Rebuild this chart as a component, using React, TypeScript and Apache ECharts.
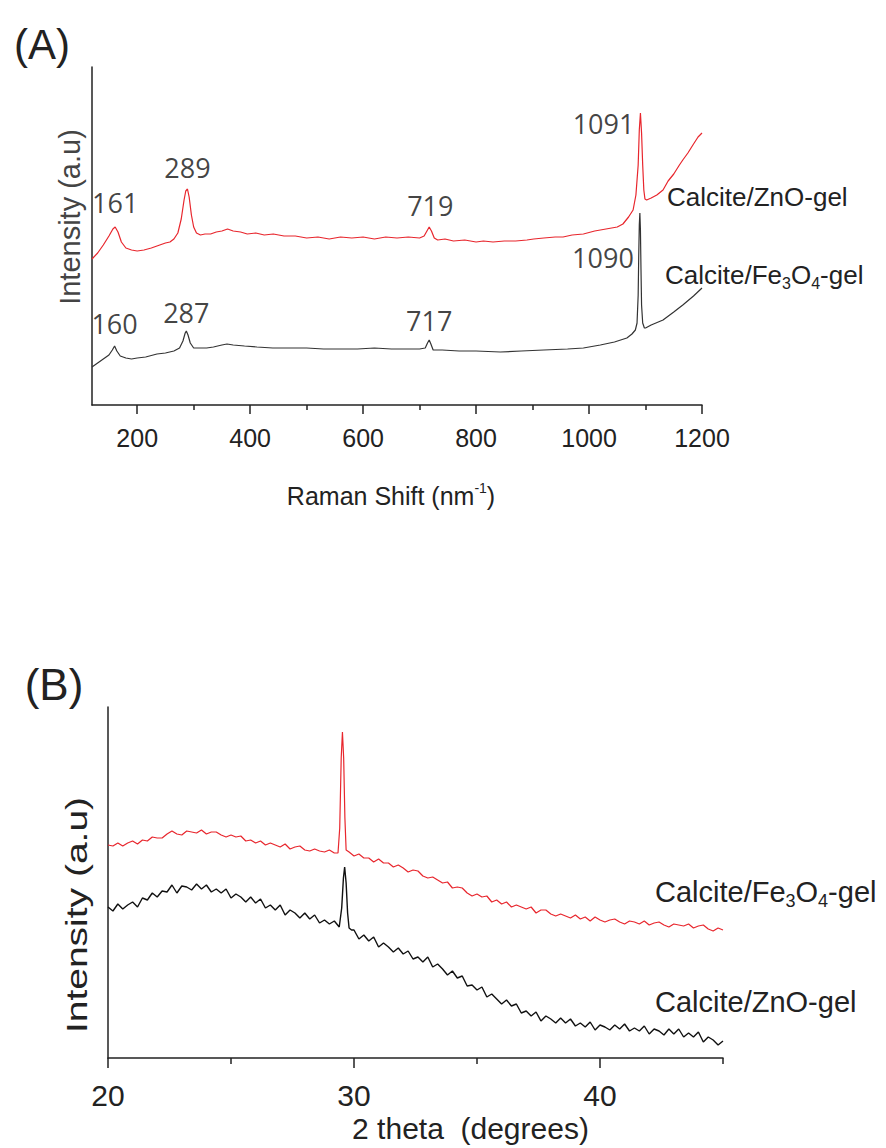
import React, { useEffect, useRef } from "react";
import * as echarts from "echarts";

// ---------- Panel A: Raman spectra (x: Raman shift, y: intensity a.u.) ----------
const ramanZnO: [number, number][] = [
  [120, 146], [130, 152], [140, 160], [150, 169], [157, 176], [161, 178], [166, 173], [172, 163],
  [180, 157], [190, 155], [200, 154], [212, 155], [225, 157], [240, 160], [250, 162], [258, 163],
  [265, 166], [272, 172], [278, 186], [283, 205], [286, 214], [289, 216], [292, 208], [296, 190],
  [300, 178], [305, 172], [312, 170], [320, 171], [330, 171], [340, 173], [350, 174], [360, 176],
  [370, 174], [383, 173], [395, 171], [410, 172], [425, 170], [441, 171], [460, 169], [480, 169],
  [500, 167], [520, 168], [540, 166], [560, 168], [580, 167], [600, 168], [620, 166], [640, 168],
  [660, 167], [680, 168], [700, 167], [708, 169], [713, 174], [717, 178], [721, 174], [726, 167],
  [732, 165], [745, 166], [760, 164], [780, 165], [800, 163], [813, 164], [830, 163], [850, 164],
  [870, 164], [890, 165], [902, 166], [920, 167], [940, 168], [954, 168], [970, 170], [990, 171],
  [1010, 174], [1030, 176], [1050, 178], [1060, 181], [1070, 188], [1078, 195], [1083, 210],
  [1087, 240], [1089, 275], [1091, 292], [1093, 272], [1095, 240], [1097, 215], [1099, 206],
  [1102, 205], [1110, 207], [1120, 210], [1131, 215], [1140, 224], [1150, 231], [1160, 240],
  [1166, 245], [1175, 252], [1185, 261], [1193, 268], [1200, 272],
];

const ramanFe3O4: [number, number][] = [
  [120, 38], [130, 42], [140, 46], [150, 50], [156, 55], [160, 59], [164, 54], [170, 49],
  [180, 47], [190, 46], [200, 47], [215, 48], [235, 51], [250, 52], [265, 54], [275, 57],
  [281, 64], [285, 72], [287, 74], [290, 70], [294, 62], [300, 57], [310, 57], [323, 57],
  [335, 58], [350, 60], [359, 61], [370, 60], [390, 59], [412, 58], [440, 57], [470, 57],
  [500, 57], [530, 56], [560, 56], [590, 56], [620, 57], [650, 56], [680, 56], [700, 56],
  [710, 57], [714, 62], [717, 65], [720, 61], [724, 55], [740, 55], [770, 54], [800, 54],
  [843, 53], [880, 54], [920, 55], [962, 56], [990, 57], [1020, 60], [1045, 63], [1067, 67],
  [1076, 71], [1082, 75], [1085, 82], [1087, 110], [1088, 150], [1089, 180], [1090, 192],
  [1091, 175], [1092, 135], [1093, 100], [1095, 82], [1098, 77], [1100, 77], [1110, 80],
  [1131, 85], [1150, 93], [1166, 100], [1185, 109], [1200, 117],
];

const ramanPeaksZnO = [161, 289, 719, 1091];
const ramanPeaksFe3O4 = [160, 287, 717, 1090];
const ramanMajorTicks = [200, 400, 600, 800, 1000, 1200];
const ramanMinorTicks = [300, 500, 700, 900, 1100];

// ---------- Panel B: XRD patterns (x: 2 theta, y: intensity a.u.) ----------
const xrdFe3O4: [number, number][] = [
  [20.0, 213], [20.2, 212], [20.4, 215], [20.6, 212], [20.8, 215], [21.0, 217], [21.2, 214],
  [21.4, 218], [21.6, 217], [21.8, 221], [22.0, 220], [22.2, 220], [22.4, 224], [22.6, 227],
  [22.8, 224], [23.0, 223], [23.2, 227], [23.4, 226], [23.6, 225], [23.8, 228], [24.0, 224],
  [24.2, 226], [24.4, 226], [24.6, 223], [24.8, 221], [25.0, 223], [25.2, 221], [25.4, 222],
  [25.6, 217], [25.8, 218], [26.0, 215], [26.2, 217], [26.4, 213], [26.6, 215], [26.8, 213],
  [27.0, 211], [27.2, 214], [27.4, 209], [27.6, 211], [27.8, 212], [28.0, 208], [28.2, 207],
  [28.4, 209], [28.6, 207], [28.8, 206], [29.0, 208], [29.2, 205], [29.35, 205], [29.42, 230],
  [29.48, 300], [29.53, 326], [29.58, 300], [29.63, 240], [29.68, 208], [29.8, 206], [30.0, 202],
  [30.2, 204], [30.4, 200], [30.6, 200], [30.8, 196], [31.0, 199], [31.2, 195], [31.4, 195],
  [31.6, 191], [31.8, 193], [32.0, 190], [32.2, 186], [32.4, 188], [32.6, 187], [32.8, 182],
  [33.0, 180], [33.2, 181], [33.4, 178], [33.6, 175], [33.8, 176], [34.0, 170], [34.2, 171],
  [34.4, 170], [34.6, 165], [34.8, 162], [35.0, 164], [35.2, 161], [35.4, 162], [35.6, 156],
  [35.8, 158], [36.0, 154], [36.2, 156], [36.4, 151], [36.6, 153], [36.8, 151], [37.0, 149],
  [37.2, 151], [37.4, 145], [37.6, 148], [37.8, 148], [38.0, 144], [38.2, 142], [38.4, 144],
  [38.6, 142], [38.8, 140], [39.0, 143], [39.2, 139], [39.4, 141], [39.6, 137], [39.8, 141],
  [40.0, 138], [40.2, 136], [40.4, 138], [40.6, 139], [40.8, 136], [41.0, 134], [41.2, 137],
  [41.4, 136], [41.6, 134], [41.8, 137], [42.0, 133], [42.2, 135], [42.4, 136], [42.6, 133],
  [42.8, 131], [43.0, 134], [43.2, 133], [43.4, 132], [43.6, 134], [43.8, 130], [44.0, 132],
  [44.2, 133], [44.4, 129], [44.6, 127], [44.8, 130], [45.0, 128],
];

const xrdZnO: [number, number][] = [
  [20.0, 151], [20.2, 147], [20.4, 154], [20.6, 149], [20.8, 153], [21.0, 156], [21.2, 151],
  [21.4, 160], [21.6, 158], [21.8, 165], [22.0, 161], [22.2, 167], [22.4, 166], [22.6, 173],
  [22.8, 165], [23.0, 172], [23.2, 171], [23.4, 168], [23.6, 174], [23.8, 169], [24.0, 173],
  [24.2, 166], [24.4, 169], [24.6, 165], [24.8, 169], [25.0, 160], [25.2, 164], [25.4, 161],
  [25.6, 156], [25.8, 161], [26.0, 155], [26.2, 159], [26.4, 150], [26.6, 153], [26.8, 148],
  [27.0, 153], [27.2, 143], [27.4, 148], [27.6, 145], [27.8, 140], [28.0, 145], [28.2, 139],
  [28.4, 143], [28.6, 135], [28.8, 138], [29.0, 134], [29.2, 137], [29.4, 131], [29.5, 150],
  [29.57, 180], [29.62, 191], [29.68, 175], [29.74, 145], [29.8, 130], [29.9, 128], [30.0, 128],
  [30.2, 119], [30.4, 123], [30.6, 117], [30.8, 121], [31.0, 111], [31.2, 115], [31.4, 111],
  [31.6, 106], [31.8, 110], [32.0, 104], [32.2, 107], [32.4, 99], [32.6, 101], [32.8, 96],
  [33.0, 101], [33.2, 91], [33.4, 94], [33.6, 89], [33.8, 83], [34.0, 87], [34.2, 80],
  [34.4, 82], [34.6, 72], [34.8, 73], [35.0, 68], [35.2, 71], [35.4, 61], [35.6, 64],
  [35.8, 59], [36.0, 54], [36.2, 58], [36.4, 52], [36.6, 54], [36.8, 45], [37.0, 47],
  [37.2, 42], [37.4, 46], [37.6, 37], [37.8, 42], [38.0, 39], [38.2, 35], [38.4, 40],
  [38.6, 35], [38.8, 39], [39.0, 32], [39.2, 35], [39.4, 31], [39.6, 36], [39.8, 28],
  [40.0, 33], [40.2, 31], [40.4, 28], [40.6, 33], [40.8, 29], [41.0, 34], [41.2, 27],
  [41.4, 30], [41.6, 27], [41.8, 32], [42.0, 24], [42.2, 29], [42.4, 27], [42.6, 23],
  [42.8, 29], [43.0, 24], [43.2, 29], [43.4, 21], [43.6, 25], [43.8, 21], [44.0, 26],
  [44.2, 16], [44.4, 21], [44.6, 18], [44.8, 13], [45.0, 17],
];

const xrdMajorTicks = [20, 30, 40];
const xrdMinorTicks = [25, 35, 45];

// ---------- layout / styling (not data) ----------
const RED = "#e8262d";
const peakLabelHeightZnO = [203, 238, 200, 282];
const peakLabelHeightFe = [82, 93, 85, 148];
const SANS = "'Liberation Sans', Arial, sans-serif";
const PEAKFONT = "'Open Sans', Lato, sans-serif";

function peakData(peaks: number[], heights: number[]) {
  return peaks.map((p, i) => {
    const last = i === peaks.length - 1;
    return {
      value: [p, heights[i]],
      name: String(p),
      label: last ? { position: "left", distance: 6 } : { position: "inside" },
    };
  });
}

function subLabel(parts: string, size: number) {
  return {
    rich: {
      t: { fontSize: size, fontFamily: SANS, fill: "#222", lineHeight: size + 6 },
      s: { fontSize: Math.round(size * 0.62), fontFamily: SANS, fill: "#222", verticalAlign: "bottom" },
    },
    text: parts,
  };
}

export default function App() {
  const ref = useRef<HTMLDivElement>(null);

  useEffect(() => {
    if (!ref.current) return;
    const chart = echarts.init(ref.current, null, { renderer: "svg" });

    const axisLine = { show: true, lineStyle: { color: "#222", width: 1.5 } };
    const plain = (v: number) => String(v);

    const option: any = {
      animation: false,
      backgroundColor: "#fff",
      grid: [
        { left: 92, top: 67, width: 610, height: 338, outerBoundsMode: "none" },
        { left: 108, top: 707, width: 615, height: 351, outerBoundsMode: "none" },
      ],
      xAxis: [
        {
          gridIndex: 0, type: "value", min: 120, max: 1200,
          axisLine,
          axisTick: { show: true, length: 9, customValues: ramanMajorTicks, lineStyle: { color: "#222", width: 1.5 } },
          axisLabel: { customValues: ramanMajorTicks, formatter: plain, margin: 20, fontSize: 25, fontFamily: SANS, color: "#222" },
          splitLine: { show: false },
          name: "{t|Raman Shift (nm}{s|-1}{t|)}",
          nameLocation: "middle", nameGap: 76,
          nameTextStyle: {
            padding: [0, 12, 0, 0],
            rich: {
              t: { fontSize: 25, fontFamily: SANS, color: "#222", lineHeight: 30 },
              s: { fontSize: 14, fontFamily: SANS, color: "#222", verticalAlign: "top" },
            },
          },
        },
        {
          gridIndex: 0, type: "value", min: 120, max: 1200, position: "bottom",
          axisLine: { show: false },
          axisTick: { show: true, length: 5, customValues: ramanMinorTicks, lineStyle: { color: "#222", width: 1.5 } },
          axisLabel: { show: false },
          splitLine: { show: false },
        },
        {
          gridIndex: 1, type: "value", min: 20, max: 45,
          axisLine,
          axisTick: { show: true, length: 10, customValues: xrdMajorTicks, lineStyle: { color: "#222", width: 1.5 } },
          axisLabel: { customValues: xrdMajorTicks, formatter: plain, margin: 22, fontSize: 30, fontFamily: SANS, color: "#222" },
          splitLine: { show: false },
          name: "2 theta  (degrees)",
          nameLocation: "middle", nameGap: 55,
          nameTextStyle: { fontSize: 30, fontFamily: SANS, color: "#222", padding: [0, 0, 0, 110] },
        },
        {
          gridIndex: 1, type: "value", min: 20, max: 45, position: "bottom",
          axisLine: { show: false },
          axisTick: { show: true, length: 6, customValues: xrdMinorTicks, lineStyle: { color: "#222", width: 1.5 } },
          axisLabel: { show: false },
          splitLine: { show: false },
        },
      ],
      yAxis: [
        {
          gridIndex: 0, type: "value", min: 0, max: 338,
          axisLine, axisTick: { show: false }, axisLabel: { show: false }, splitLine: { show: false },
        },
        {
          gridIndex: 1, type: "value", min: 0, max: 351,
          axisLine, axisTick: { show: false }, axisLabel: { show: false }, splitLine: { show: false },
        },
      ],
      series: [
        {
          name: "Calcite/ZnO-gel (Raman)", type: "line", xAxisIndex: 0, yAxisIndex: 0,
          data: ramanZnO, showSymbol: false, symbol: "none",
          lineStyle: { color: RED, width: 1.2 }, silent: true,
        },
        {
          name: "Calcite/Fe3O4-gel (Raman)", type: "line", xAxisIndex: 0, yAxisIndex: 0,
          data: ramanFe3O4, showSymbol: false, symbol: "none",
          lineStyle: { color: "#333", width: 1.2 }, silent: true,
        },
        {
          name: "Calcite/Fe3O4-gel (XRD)", type: "line", xAxisIndex: 2, yAxisIndex: 1,
          data: xrdFe3O4, showSymbol: false, symbol: "none",
          lineStyle: { color: RED, width: 1.2 }, silent: true,
        },
        {
          name: "Calcite/ZnO-gel (XRD)", type: "line", xAxisIndex: 2, yAxisIndex: 1,
          data: xrdZnO, showSymbol: false, symbol: "none",
          lineStyle: { color: "#111", width: 1.4 }, silent: true,
        },
        {
          name: "ZnO peaks", type: "scatter", xAxisIndex: 0, yAxisIndex: 0,
          symbolSize: 0, silent: true,
          data: peakData(ramanPeaksZnO, peakLabelHeightZnO),
          label: { show: true, formatter: "{b}", fontSize: 27, fontFamily: PEAKFONT, color: "#111" },
        },
        {
          name: "Fe3O4 peaks", type: "scatter", xAxisIndex: 0, yAxisIndex: 0,
          symbolSize: 0, silent: true,
          data: peakData(ramanPeaksFe3O4, peakLabelHeightFe),
          label: { show: true, formatter: "{b}", fontSize: 27, fontFamily: PEAKFONT, color: "#111" },
        },
      ],
      graphic: [
        { type: "text", x: 42, y: 44, style: { text: "(A)", fontSize: 42, fontFamily: SANS, fill: "#222", align: "center", verticalAlign: "middle" } },
        { type: "text", x: 54, y: 684, style: { text: "(B)", fontSize: 44, fontFamily: SANS, fill: "#222", align: "center", verticalAlign: "middle" } },
        {
          type: "text", x: 70, y: 217, rotation: Math.PI / 2,
          style: { text: "Intensity (a.u)", fontSize: 29, fontFamily: SANS, fill: "#444", align: "center", verticalAlign: "middle" },
        },
        {
          type: "text", x: 77, y: 915, rotation: Math.PI / 2, scaleX: 1.3,
          style: { text: "Intensity (a.u)", fontSize: 30, fontFamily: SANS, fill: "#222", align: "center", verticalAlign: "middle" },
        },
        {
          type: "text", x: 667, y: 197,
          style: { ...subLabel("{t|Calcite/ZnO-gel}", 26), align: "left", verticalAlign: "middle" },
        },
        {
          type: "text", x: 665, y: 275,
          style: { ...subLabel("{t|Calcite/Fe}{s|3}{t|O}{s|4}{t|-gel}", 26), align: "left", verticalAlign: "middle" },
        },
        {
          type: "text", x: 655, y: 892,
          style: { ...subLabel("{t|Calcite/Fe}{s|3}{t|O}{s|4}{t|-gel}", 29), align: "left", verticalAlign: "middle" },
        },
        {
          type: "text", x: 655, y: 1002,
          style: { ...subLabel("{t|Calcite/ZnO-gel}", 29), align: "left", verticalAlign: "middle" },
        },
      ],
    };

    chart.setOption(option);
    return () => chart.dispose();
  }, []);

  return (
    <div
      ref={ref}
      style={{ position: "absolute", left: 0, top: 0, width: 886, height: 1148, background: "#fff" }}
    />
  );
}
